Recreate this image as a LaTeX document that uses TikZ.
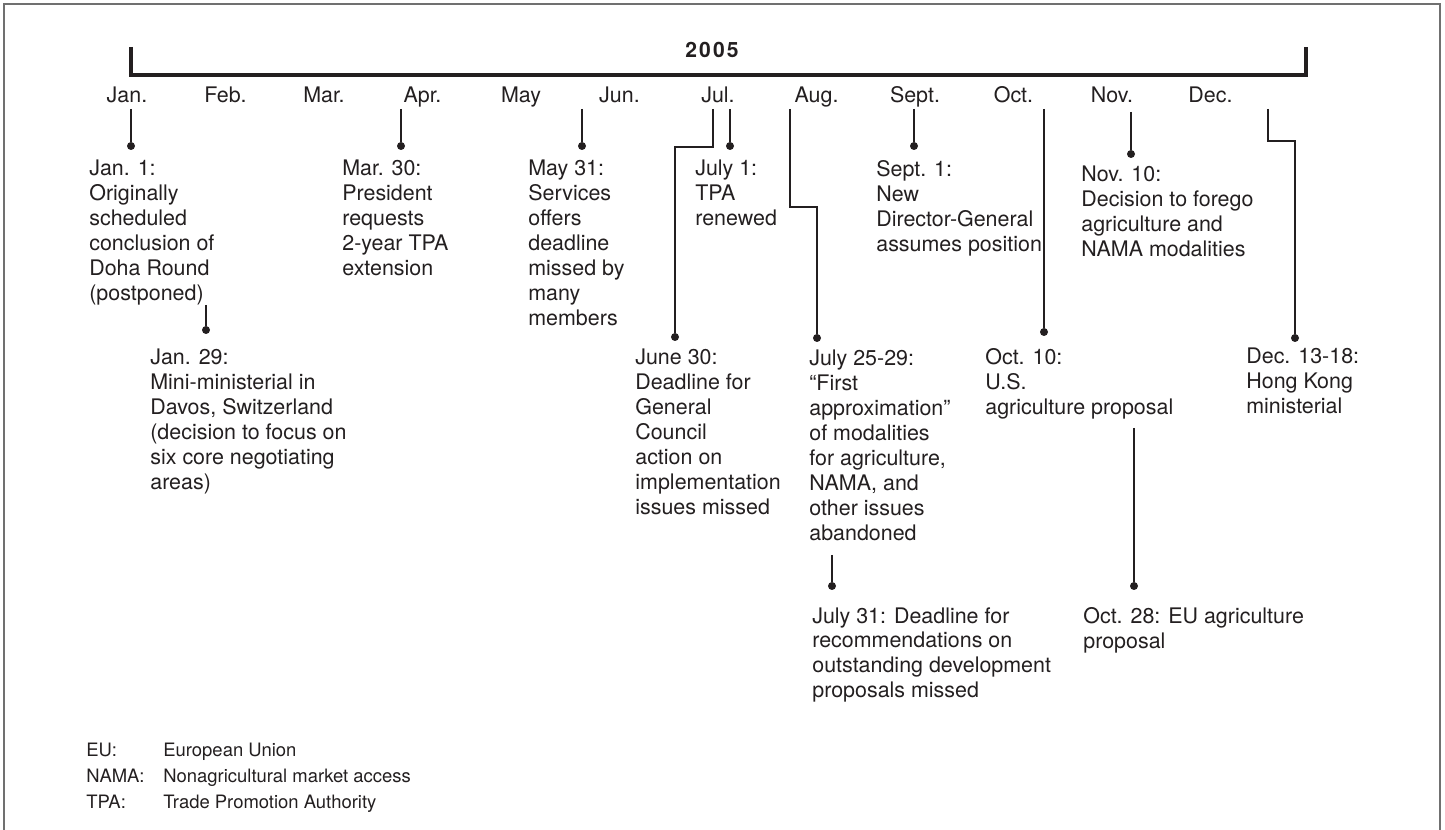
\documentclass[tikz,border=0pt]{standalone}
\usepackage{fontspec}
\setmainfont{TeX Gyre Heros}
\definecolor{ink}{HTML}{231F20}
\definecolor{framegray}{HTML}{707070}
\tikzset{
    stem/.style={draw=ink, line width=0.6pt},
    dot/.style={circle, fill=ink, inner sep=0pt, minimum size=1.6mm},
    evtext/.style={anchor=north west, align=left, inner sep=0pt, text=ink, font=\fontsize{12.2}{14.2}\selectfont},
    month/.style={anchor=base, inner sep=0pt, text=ink, font=\fontsize{12.2}{14.2}\selectfont},
    legend/.style={anchor=base west, inner sep=0pt, text=ink, font=\fontsize{10.5}{12}\selectfont},
}
\begin{document}
\begin{tikzpicture}[x=0.02cm, y=-0.02cm]
        \def\monthgap{98.5}
        \useasboundingbox (0,0) rectangle (1445,830);

        % FRAME
        \draw[framegray, line width=1.1pt] (4,830) |- (1440,4) -- (1440,830);

        % TIME BAR
        \draw[ink, line width=2.6pt] (131,47) |- (1306,75) -- (1306,47);
        \node[anchor=base, inner sep=0pt, text=ink, font=\fontsize{12}{14}\selectfont\bfseries] (year) at (712,58) {2\kern1.2pt0\kern1.2pt0\kern1.2pt5};
        \foreach \m [count=\i from 0] in {Jan.,Feb.,Mar.,Apr.,May,Jun.,Jul.,Aug.,Sept.,Oct.,Nov.,Dec.} {
            \node[month] (m\i) at ({127+\monthgap*\i},103) {\m};
        }

        % STRAIGHT STEMS
        \foreach \n/\x/\ya/\yb in {jan1/131/109/146, jan29/206/305/330, mar30/401/109/146, may31/582/109/146,
                                   jul1/730/109/146, sep1/914/109/146, oct10/1044/109/332, nov10/1131/112/154,
                                   jul31/832/555/586, oct28/1134/428/586} {
            \coordinate (t\n) at (\x,\ya);
            \node[dot] (d\n) at (\x,\yb) {};
            \draw[stem] (t\n) -- (d\n);
        }

        % ELBOW STEMS
        \coordinate (tjun30) at (713,109);
        \node[dot] (djun30) at (675,337) {};
        \draw[stem] (tjun30) -- ++(0,38) -| (djun30);
        \coordinate (tjul25) at (790,109);
        \node[dot] (djul25) at (817,338) {};
        \draw[stem] (tjul25) -- ++(0,98) -| (djul25);
        \coordinate (tdec13) at (1268,109);
        \node[dot] (ddec13) at (1295,338) {};
        \draw[stem] (tdec13) -- ++(0,32) -| (ddec13);

        % EVENTS
        \node[evtext] (jan1) at (89,160) {Jan. 1:\\Originally\\scheduled\\conclusion of\\Doha Round\\(postponed)};
        \node[evtext] (jan29) at (150,349) {Jan. 29:\\Mini-ministerial in\\Davos, Switzerland\\(decision to focus on\\six core negotiating\\areas)};
        \node[evtext] (mar30) at (342,160) {Mar. 30:\\President\\requests\\2-year TPA\\extension};
        \node[evtext] (may31) at (528,160) {May 31:\\Services\\offers\\deadline\\missed by\\many\\members};
        \node[evtext] (jun30) at (635,349) {June 30:\\Deadline for\\General\\Council\\action on\\implementation\\issues missed};
        \node[evtext] (jul1) at (695,160) {July 1:\\TPA\\renewed};
        \node[evtext] (jul25) at (809,350) {July 25-29:\\“First\\approximation”\\of modalities\\for agriculture,\\NAMA, and\\other issues\\abandoned};
        \node[evtext] (sep1) at (876,160) {Sept. 1:\\New\\Director-General\\assumes position};
        \node[evtext] (oct10) at (985,348) {Oct. 10:\\U.S.\\agriculture proposal};
        \node[evtext] (nov10) at (1081,166) {Nov. 10:\\Decision to forego\\agriculture and\\NAMA modalities};
        \node[evtext] (dec13) at (1246,348) {Dec. 13-18:\\Hong Kong\\ministerial};
        \node[evtext] (jul31) at (812,607) {July 31: Deadline for\\recommendations on\\outstanding development\\proposals missed};
        \node[evtext] (oct28) at (1083,607) {Oct. 28: EU agriculture\\proposal};

        % LEGEND
        \foreach \ab/\full [count=\i from 0] in {EU:/European Union, NAMA:/Nonagricultural market access, TPA:/Trade Promotion Authority} {
            \node[legend] (ab\i) at (86,{757+26*\i}) {\ab};
            \node[legend] (lg\i) at (163,{757+26*\i}) {\full};
        }
\end{tikzpicture}
\end{document}
